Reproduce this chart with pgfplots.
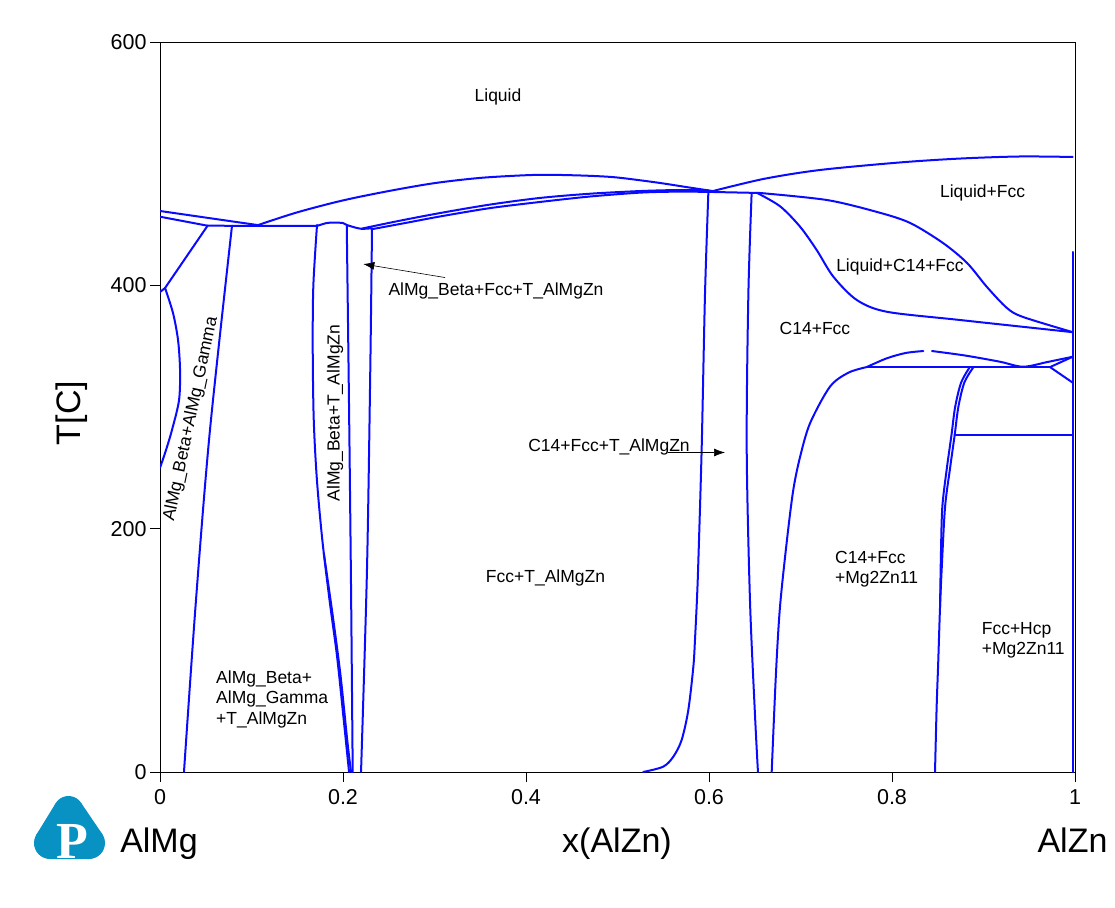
\documentclass[border=0pt]{standalone}
\usepackage{pgfplots}
\pgfplotsset{compat=1.18}
\usepackage{fontspec}
\setmainfont{Liberation Sans}
\newfontfamily\logoserif{Liberation Serif}
\usetikzlibrary{arrows.meta}
\definecolor{pl}{RGB}{10,10,255}
\definecolor{logoblue}{RGB}{8,145,195}
\newcommand\lf{\fontsize{17.5}{20.5}\selectfont}
\begin{document}
\begin{tikzpicture}
\begin{axis}[
  at={(0pt,0pt)}, anchor=south west,
  scale only axis, width=915pt, height=730pt,
  xmin=0, xmax=1, ymin=0, ymax=600,
  xtick={0,0.2,0.4,0.6,0.8,1}, xticklabels={0,0.2,0.4,0.6,0.8,1},
  ytick={0,200,400,600},
  xtick pos=bottom, ytick pos=left,
  tick align=outside, major tick length=10pt,
  axis line style={line width=0.9pt},
  tick style={line width=0.9pt, black},
  tick label style={font=\fontsize{21.5}{26}\selectfont},
  xticklabel style={yshift=-4pt},
  /pgf/number format/assume math mode=true,
  cycle list={{pl, solid, no markers}},
  no markers,
  every axis plot/.append style={pl, solid, line width=2pt, line join=round, line cap=round},
]
% left liquidus
\addplot[] coordinates {(0,461.1) (0.107,449.5)};
\addplot[smooth] coordinates {(0.107,449.5) (0.15,460.0) (0.2,469.8) (0.25,477.5) (0.3,484.0) (0.35,488.3) (0.4,490.5) (0.43,490.8) (0.47,490.0) (0.5,488.6) (0.543,484.5) (0.575,480.8) (0.604,477.5)};
\addplot[] coordinates {(0,456.4) (0.052,449.0)};
\addplot[] coordinates {(0.052,449.0) (0.1716,448.8)};
\addplot[smooth] coordinates {(0.1716,448.8) (0.181,451.0) (0.189,451.6) (0.2,451.2) (0.2041,449.6) (0.2153,447.1) (0.2205,446.4) (0.2317,446.9)};
\addplot[smooth] coordinates {(0.2205,446.6) (0.26,452.8) (0.306,459.4) (0.36,466.3) (0.415,471.8) (0.47,475.3) (0.525,477.5) (0.565,478.3) (0.5993,478.0)};
\addplot[smooth] coordinates {(0.2313,446.1) (0.27,451.5) (0.306,456.6) (0.36,463.4) (0.415,468.5) (0.47,473.0) (0.525,476.2) (0.565,477.0) (0.5993,476.8)};
% gamma region
\addplot[] coordinates {(0.052,449.0) (0.0055,397.8) (0,394.5)};
\addplot[smooth] coordinates {(0.0055,397.8) (0.0142,377.3) (0.0197,355.1) (0.0219,330.4) (0.0208,305.6) (0.0131,281.1) (0.0066,264.7) (0,249.9)};
\addplot[smooth] coordinates {(0.0787,449) (0.0546,281) (0.0393,141) (0.0262,0)};
% beta region
\addplot[smooth] coordinates {(0.1716,449.6) (0.1676,400) (0.1669,350) (0.1680,290) (0.1715,240) (0.1775,190) (0.1855,140) (0.1935,95) (0.2005,45) (0.2066,0)};
\addplot[smooth] coordinates {(0.1790,180) (0.1885,130) (0.1972,80) (0.2048,25) (0.2088,0)};
\addplot[smooth] coordinates {(0.2041,449.6) (0.2066,300) (0.2088,150) (0.2106,0)};
\addplot[smooth] coordinates {(0.2317,446.9) (0.2298,330) (0.2262,166) (0.2197,0)};
% near 0.6
\addplot[smooth] coordinates {(0.5993,476.5) (0.5956,392.2) (0.592,266.4) (0.5883,172) (0.5868,141.4) (0.5847,109) (0.5829,86.6) (0.5774,51.0) (0.5701,26.3) (0.561,12.6) (0.550,4.4) (0.528,0)};
\addplot[] coordinates {(0.5993,476.8) (0.6557,475.9)};
\addplot[smooth] coordinates {(0.6466,475.9) (0.643,392.2) (0.6412,266.4) (0.6448,140.5) (0.6503,46.2) (0.6535,0)};
% right liquidus
\addplot[smooth] coordinates {(0.6044,477.5) (0.66,487.5) (0.7213,494.8) (0.8087,501.0) (0.8743,504.2) (0.9399,505.9) (0.9975,505.5)};
\addplot[smooth] coordinates {(0.6557,475.9) (0.729,470.1) (0.7836,460.3) (0.8197,451.3) (0.8557,434.8) (0.882,418.4) (0.9038,398.6) (0.9257,381.3) (0.9432,374.0) (0.9975,361.5)};
\addplot[smooth] coordinates {(0.6521,476.1) (0.6776,465) (0.6995,448.2) (0.7177,429.0) (0.7359,407.1) (0.7614,388.0) (0.7942,378.3) (0.8743,371.5) (0.9975,361.5)};
% C14 solvus
\addplot[smooth] coordinates {(0.6685,0) (0.6732,81.4) (0.6776,135.9) (0.6852,190.7) (0.6921,231.8) (0.6995,258.9) (0.7104,286.6) (0.7322,316.7) (0.7523,328.2) (0.7723,332.8)};
\addplot[smooth] coordinates {(0.7723,332.8) (0.7942,340.0) (0.815,344.4) (0.8342,346.0)};
\addplot[smooth] coordinates {(0.8437,346.0) (0.88,342.3) (0.918,337.2) (0.9432,333.1) (0.97,337.0) (0.9975,341.3)};
\addplot[] coordinates {(0.7723,332.8) (0.9727,332.8)};
\addplot[] coordinates {(0.9727,332.8) (0.9975,341.3)};
\addplot[] coordinates {(0.9727,332.8) (0.9975,320.0)};
% Mg2Zn11 boundaries
\addplot[smooth] coordinates {(0.889,332.8) (0.879,320) (0.8725,300) (0.8685,277) (0.8635,250) (0.858,218) (0.8545,170) (0.8525,136) (0.8505,90) (0.8488,54) (0.847,0)};
\addplot[smooth] coordinates {(0.885,332.8) (0.8755,320) (0.869,300) (0.865,277) (0.860,250) (0.855,218) (0.8535,180) (0.8525,136)};
\addplot[] coordinates {(0.8685,277) (0.9975,277)};
\addplot[] coordinates {(0.9975,427.4) (0.9975,0)};
% labels
\node[font=\lf] at (axis cs:0.3694,554.8) {Liquid};
\node[font=\lf] at (axis cs:0.899,475.9) {Liquid+Fcc};
\node[font=\lf] at (axis cs:0.8087,415.3) {Liquid+C14+Fcc};
\node[font=\lf] at (axis cs:0.7158,364.9) {C14+Fcc};
\node[font=\lf] at (axis cs:0.3672,395.0) {AlMg\_Beta+Fcc+T\_AlMgZn};
\node[font=\lf] at (axis cs:0.4907,267.1) {C14+Fcc+T\_AlMgZn};
\node[font=\lf] at (axis cs:0.4213,159.5) {Fcc+T\_AlMgZn};
\node[font=\lf, align=left, anchor=west] at (axis cs:0.734,166.8) {C14+Fcc\\+Mg2Zn11};
\node[font=\lf, align=left, anchor=west] at (axis cs:0.8943,108.1) {Fcc+Hcp\\+Mg2Zn11};
\node[font=\lf, align=left, anchor=west] at (axis cs:0.0576,60) {AlMg\_Beta+\\AlMg\_Gamma\\+T\_AlMgZn};
\node[font=\lf, rotate=78] at (axis cs:0.0339,290.1) {AlMg\_Beta+AlMg\_Gamma};
\node[font=\lf, rotate=90] at (axis cs:0.1913,295) {AlMg\_Beta+T\_AlMgZn};
\draw[black, line width=0.6pt, -{Latex[length=11pt,width=8pt]}] (axis cs:0.3115,406.4) -- (axis cs:0.2222,417.5);
\draw[black, line width=0.6pt, -{Latex[length=11pt,width=8pt]}] (axis cs:0.5552,262.6) -- (axis cs:0.6175,262.6);
\end{axis}
\pgfresetboundingbox
\path[use as bounding box] (-160pt,-135pt) rectangle (955pt,772pt);
% axis titles
\node[font=\fontsize{34}{40}\selectfont, rotate=90] at (-88pt,359pt) {T[C]};
\node[font=\fontsize{34}{40}\selectfont, anchor=base] at (457pt,-80pt) {x(AlZn)};
\node[font=\fontsize{34}{40}\selectfont, anchor=base] at (-1pt,-80pt) {AlMg};
\node[font=\fontsize{34}{40}\selectfont, anchor=base] at (912.5pt,-80pt) {AlZn};
% logo
\fill[logoblue] (-91.5pt,-39pt) circle (15pt);
\fill[logoblue] (-110pt,-71pt) circle (16pt);
\fill[logoblue] (-71pt,-71pt) circle (16pt);
\fill[logoblue] (-104.5pt,-31.5pt) -- (-123.8pt,-63pt) -- (-110pt,-87pt) -- (-71pt,-87pt) -- (-57.5pt,-62.4pt) -- (-78.9pt,-30.9pt) -- cycle;
\node[text=white, font=\logoserif\bfseries\fontsize{52}{52}\selectfont, anchor=base, inner sep=0pt] at (-88pt,-86pt) {P};
\end{tikzpicture}
\end{document}
